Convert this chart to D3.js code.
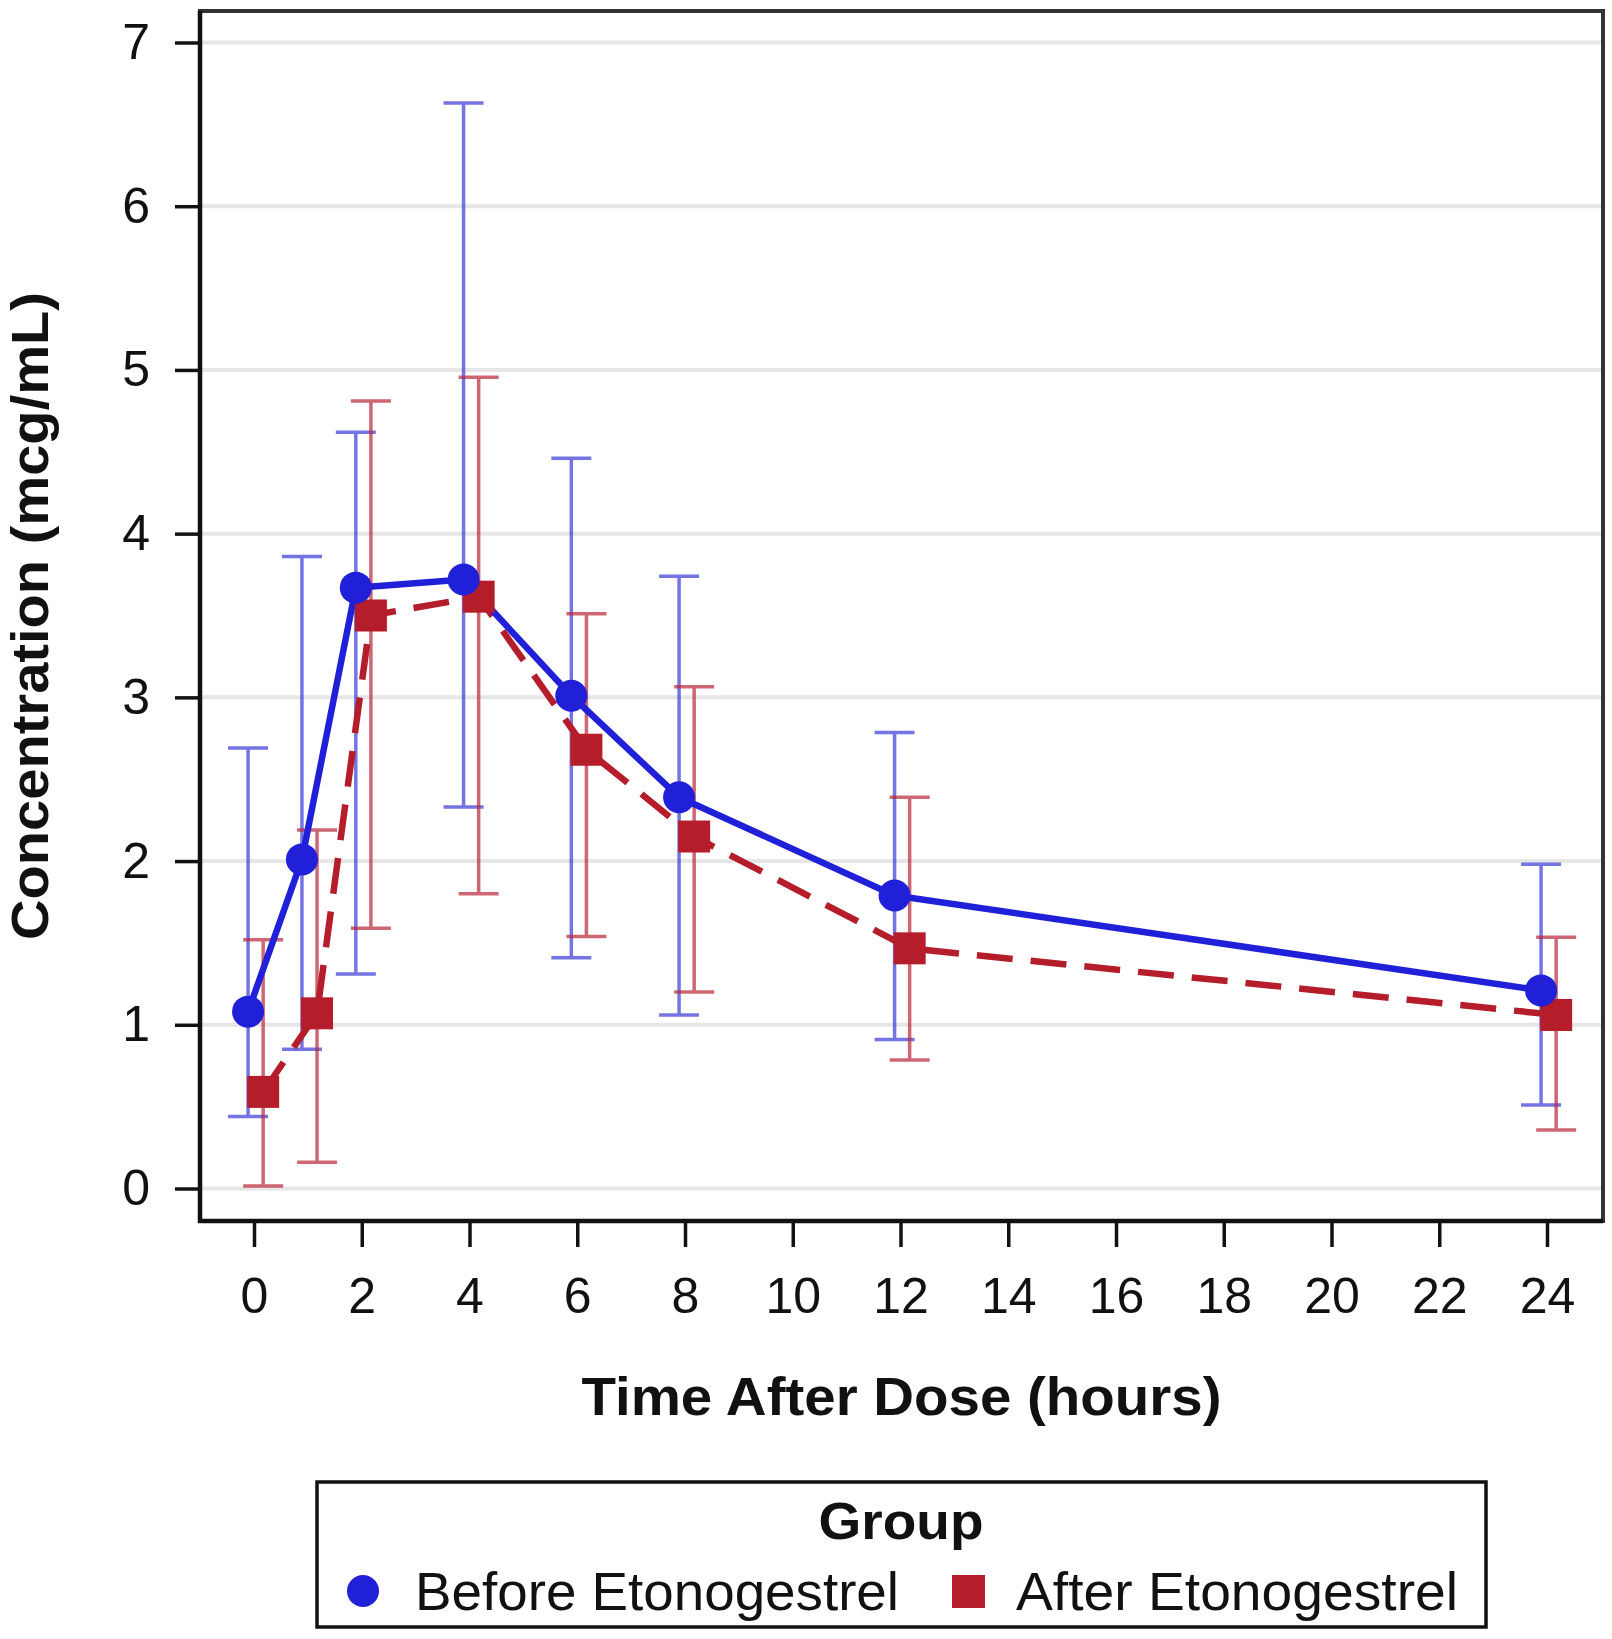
<!DOCTYPE html>
<html>
<head>
<meta charset="utf-8">
<script src="https://cdn.jsdelivr.net/npm/d3@7"></script>
<style>
  html, body { margin: 0; padding: 0; background: #fff; }
  svg { display: block; }
  text { font-family: "Liberation Sans", Arial, sans-serif; }
</style>
</head>
<body>
<svg id="chart" width="1612" height="1639"></svg>
<script>
// ---- data ----
const times = [0, 1, 2, 4, 6, 8, 12, 24];
const groupNames = ["Before Etonogestrel", "After Etonogestrel"];
const groupOffsets = [-0.11, 0.17]; // cluster offset in hours
const beforeMean  = [1.08, 2.01, 3.67, 3.72, 3.01, 2.39, 1.79, 1.21];
const beforeUpper = [2.69, 3.86, 4.62, 6.63, 4.46, 3.74, 2.785, 1.98];
const beforeLower = [0.44, 0.85, 1.31, 2.33, 1.41, 1.06, 0.91, 0.51];
const afterMean   = [0.59, 1.07, 3.50, 3.615, 2.68, 2.15, 1.467, 1.06];
const afterUpper  = [1.52, 2.19, 4.81, 4.955, 3.51, 3.065, 2.39, 1.535];
const afterLower  = [0.015, 0.16, 1.59, 1.80, 1.54, 1.20, 0.785, 0.357];
const xTicks = [0, 2, 4, 6, 8, 10, 12, 14, 16, 18, 20, 22, 24];
const yTicks = [0, 1, 2, 3, 4, 5, 6, 7];
const xTitle = "Time After Dose (hours)";
const yTitle = "Concentration (mcg/mL)";
const legendTitle = "Group";

// ---- layout ----
const frame = { left: 200, right: 1603, top: 11, bottom: 1221 };
const x = d3.scaleLinear().domain([0, 24]).range([254, 1547]);
const y = d3.scaleLinear().domain([0, 7]).range([1188.5, 42.5]);

const svg = d3.select("#chart");

// gridlines
svg.append("g").selectAll("line").data(yTicks).join("line")
  .attr("x1", frame.left + 2).attr("x2", frame.right - 2)
  .attr("y1", d => y(d)).attr("y2", d => y(d))
  .attr("stroke", "#e6e6e6").attr("stroke-width", 4);

// axes
const yAxis = svg.append("g").attr("transform", `translate(${frame.left},0)`)
  .call(d3.axisLeft(y).tickValues(yTicks).tickSize(25).tickPadding(25).tickFormat(d3.format("d")));
const xAxis = svg.append("g").attr("transform", `translate(0,${frame.bottom + 1})`)
  .call(d3.axisBottom(x).tickValues(xTicks).tickSize(25).tickPadding(30).tickFormat(d3.format("d")));
[yAxis, xAxis].forEach(a => {
  a.select(".domain").remove();
  a.selectAll(".tick line").attr("stroke", "#111").attr("stroke-width", 3.5);
  a.selectAll(".tick text").attr("font-size", 50).attr("fill", "#111")
    .attr("font-family", "'Liberation Sans', Arial, sans-serif");
});

// series
const series = [
  { name: groupNames[0], off: groupOffsets[0], mean: beforeMean, lo: beforeLower, hi: beforeUpper,
    color: "#2020d8", barColor: "#3a3ad8", dash: null, shape: "circle" },
  { name: groupNames[1], off: groupOffsets[1], mean: afterMean, lo: afterLower, hi: afterUpper,
    color: "#b51d2a", barColor: "#b8283a", dash: "36,18", shape: "square" }
];
const cap = 20;

// error bars
series.forEach(s => {
  const g = svg.append("g").attr("stroke", s.barColor).attr("stroke-width", 3.5).attr("opacity", 0.7);
  const pts = times.map((t, i) => ({ x: x(t + s.off), lo: y(s.lo[i]), hi: y(s.hi[i]) }));
  g.selectAll("line.stem").data(pts).join("line").attr("class", "stem")
    .attr("x1", d => d.x).attr("x2", d => d.x).attr("y1", d => d.lo).attr("y2", d => d.hi);
  g.selectAll("line.capt").data(pts).join("line").attr("class", "capt")
    .attr("x1", d => d.x - cap).attr("x2", d => d.x + cap).attr("y1", d => d.hi).attr("y2", d => d.hi);
  g.selectAll("line.capb").data(pts).join("line").attr("class", "capb")
    .attr("x1", d => d.x - cap).attr("x2", d => d.x + cap).attr("y1", d => d.lo).attr("y2", d => d.lo);
});

// lines and markers (after first, before on top)
[series[1], series[0]].forEach(s => {
  const line = d3.line().x((d, i) => x(times[i] + s.off)).y(d => y(d));
  svg.append("path").datum(s.mean).attr("d", line)
    .attr("fill", "none").attr("stroke", s.color).attr("stroke-width", 6.5)
    .attr("stroke-linejoin", "round")
    .attr("stroke-dasharray", s.dash);
});
[series[1], series[0]].forEach(s => {
  const g = svg.append("g").attr("fill", s.color);
  if (s.shape === "circle") {
    g.selectAll("circle").data(s.mean).join("circle")
      .attr("cx", (d, i) => x(times[i] + s.off)).attr("cy", d => y(d)).attr("r", 16);
  } else {
    g.selectAll("rect").data(s.mean).join("rect")
      .attr("x", (d, i) => x(times[i] + s.off) - 16).attr("y", d => y(d) - 16)
      .attr("width", 32).attr("height", 32);
  }
});

// frame
svg.append("rect")
  .attr("x", frame.left).attr("y", frame.top)
  .attr("width", frame.right - frame.left).attr("height", frame.bottom - frame.top)
  .attr("fill", "none").attr("stroke", "#333").attr("stroke-width", 4);
svg.append("path")
  .attr("d", `M${frame.left},${frame.top} V${frame.bottom} H${frame.right}`)
  .attr("fill", "none").attr("stroke", "#111").attr("stroke-width", 4.5);

// axis titles
svg.append("text").text(xTitle)
  .attr("x", (frame.left + frame.right) / 2).attr("y", 1415)
  .attr("text-anchor", "middle").attr("font-size", 53).attr("font-weight", "bold").attr("fill", "#111")
  .attr("textLength", 640).attr("lengthAdjust", "spacingAndGlyphs");
svg.append("text").text(yTitle)
  .attr("transform", `translate(48,${(frame.top + frame.bottom) / 2}) rotate(-90)`)
  .attr("text-anchor", "middle").attr("font-size", 51).attr("font-weight", "bold").attr("fill", "#111")
  .attr("textLength", 648).attr("lengthAdjust", "spacingAndGlyphs");

// legend
const lg = svg.append("g");
lg.append("rect").attr("x", 317).attr("y", 1482).attr("width", 1169).attr("height", 145)
  .attr("fill", "#fff").attr("stroke", "#111").attr("stroke-width", 3.5);
lg.append("text").text(legendTitle).attr("x", 901).attr("y", 1539)
  .attr("text-anchor", "middle").attr("font-size", 52).attr("font-weight", "bold").attr("fill", "#111")
  .attr("textLength", 165).attr("lengthAdjust", "spacingAndGlyphs");
lg.append("circle").attr("cx", 363).attr("cy", 1591).attr("r", 16).attr("fill", series[0].color);
lg.append("text").text(groupNames[0]).attr("x", 415).attr("y", 1610)
  .attr("font-size", 53).attr("fill", "#111")
  .attr("textLength", 484).attr("lengthAdjust", "spacingAndGlyphs");
lg.append("rect").attr("x", 952).attr("y", 1575).attr("width", 33).attr("height", 33).attr("fill", series[1].color);
lg.append("text").text(groupNames[1]).attr("x", 1016).attr("y", 1610)
  .attr("font-size", 53).attr("fill", "#111")
  .attr("textLength", 442).attr("lengthAdjust", "spacingAndGlyphs");
</script>
</body>
</html>
